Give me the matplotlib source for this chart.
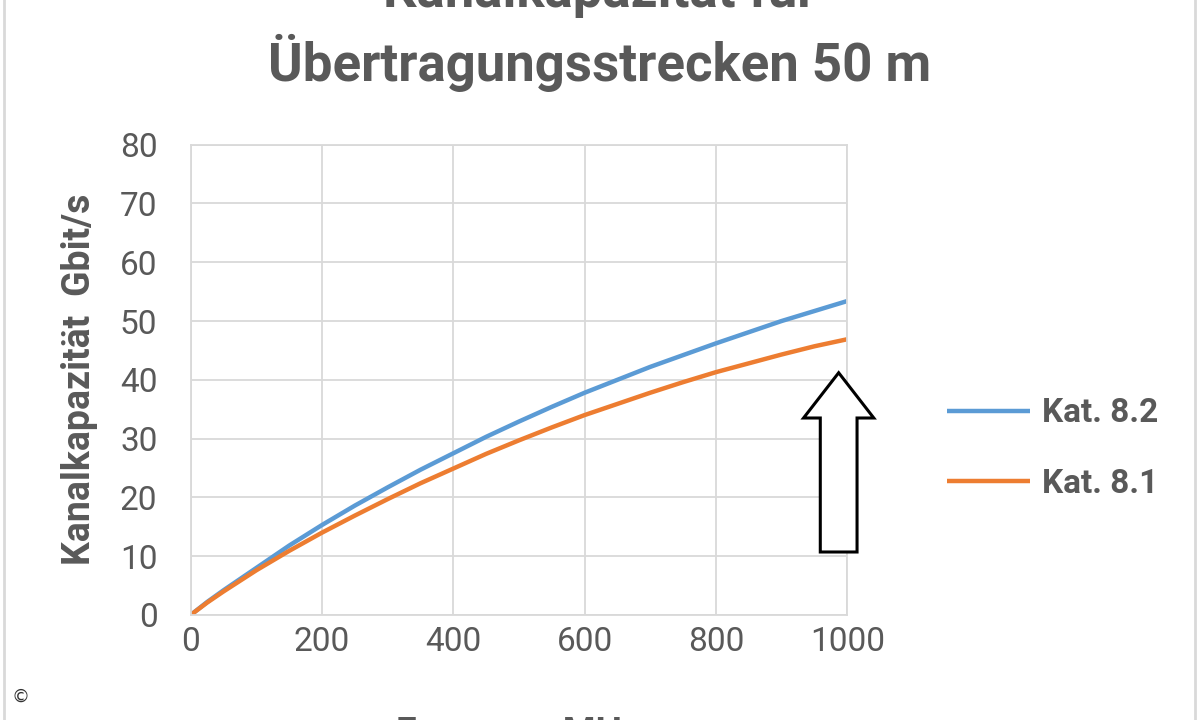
import matplotlib.pyplot as plt
from matplotlib.patches import FancyArrow, Rectangle

# values
freq_mhz = [0, 25, 50, 75, 100, 150, 200, 250, 300, 350, 400, 450, 500,
            550, 600, 650, 700, 750, 800, 850, 900, 950, 1000]
kat82 = [0, 2.2, 4.2, 6.1, 8.0, 11.8, 15.3, 18.6, 21.7, 24.7, 27.5, 30.3, 32.9,
         35.4, 37.8, 40.0, 42.2, 44.2, 46.2, 48.1, 50.0, 51.7, 53.4]
kat81 = [0, 2.1, 4.0, 5.8, 7.6, 10.9, 14.0, 16.9, 19.7, 22.4, 24.9, 27.4, 29.7,
         31.9, 34.0, 35.9, 37.8, 39.6, 41.3, 42.8, 44.3, 45.7, 46.9]
x_ticks = [0, 200, 400, 600, 800, 1000]
y_ticks = [0, 10, 20, 30, 40, 50, 60, 70, 80]

gray = '#595959'
grid = '#d9d9d9'
plt.rcParams['font.family'] = ['Roboto', 'DejaVu Sans']

fig = plt.figure(figsize=(12, 7.2), dpi=100)
ax = fig.add_axes([0.159, 0.146, 0.547, 0.653])

ax.plot(freq_mhz, kat82, color='#5B9BD5', lw=3.2, label='Kat. 8.2', solid_capstyle='butt')
ax.plot(freq_mhz, kat81, color='#ED7D31', lw=3.2, label='Kat. 8.1', solid_capstyle='butt')

ax.set_xlim(0, 1000)
ax.set_ylim(0, 80)
ax.set_xticks(x_ticks)
ax.set_yticks(y_ticks)
ax.grid(True, color=grid, lw=1.3)
ax.set_axisbelow(True)
for s in ax.spines.values():
    s.set_color(grid)
    s.set_linewidth(1.3)
ax.tick_params(length=0, labelsize=24, labelcolor=gray)
ax.tick_params(axis='x', pad=8)
ax.tick_params(axis='y', pad=24)

ax.set_ylabel('Kanalkapazität  Gbit/s', fontsize=27, fontweight='bold', color=gray, labelpad=16)
ax.xaxis.set_label_coords(0.5, -0.215)
ax.set_xlabel('Frequenz MHz', fontsize=27, fontweight='bold', color=gray, va='top')

# hollow block arrow pointing at the curve ends
arrow = FancyArrow(987, 10.7, 0, 30.5, width=56, head_width=107, head_length=7.7,
                   length_includes_head=True, facecolor='white', edgecolor='black',
                   lw=2.2, clip_on=False, zorder=5)
ax.add_patch(arrow)

leg = fig.legend(*ax.get_legend_handles_labels(), loc='center left',
                 bbox_to_anchor=(0.789, 0.377), frameon=False, borderpad=0,
                 borderaxespad=0, fontsize=24, handlelength=2.5,
                 labelspacing=1.15, handletextpad=0.35)
for t in leg.get_texts():
    t.set_color(gray)
    t.set_fontweight('bold')

fig.text(0.5, 1.011, 'Kanalkapazität für', ha='center', va='center',
         fontsize=38, fontweight='bold', color=gray)
fig.text(0.5, 0.912, 'Übertragungsstrecken 50 m', ha='center', va='center',
         fontsize=38, fontweight='bold', color=gray)

fig.text(0.017, 0.032, '©', ha='center', va='center', fontsize=13, color='#333333',
         family=['DejaVu Sans'])
fig.add_artist(Rectangle((0.003, -0.01), 0.993, 1.02, transform=fig.transFigure,
                         fill=False, edgecolor=grid, lw=2))

fig.savefig('out.png', dpi=100)
